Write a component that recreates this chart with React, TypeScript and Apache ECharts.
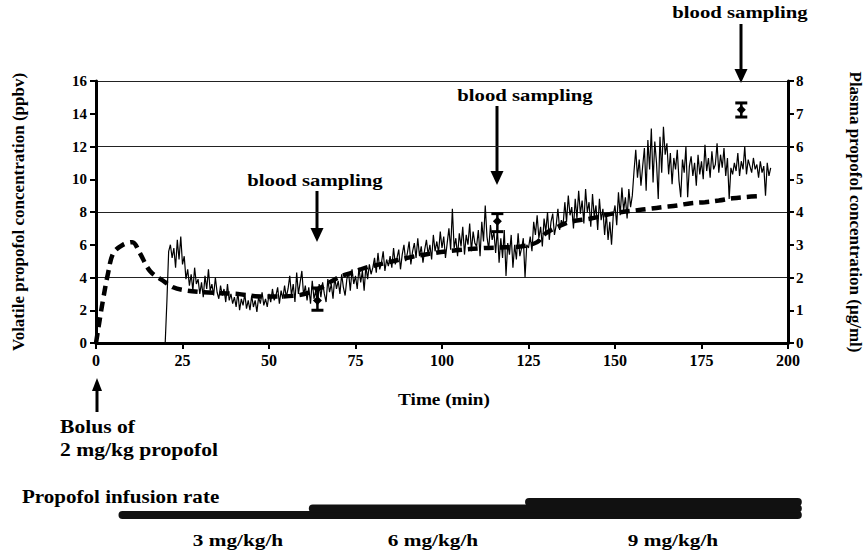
import React, { useEffect, useRef } from "react";
import * as echarts from "echarts";

// Volatile propofol (ppbv), sampled every 0.5 min from t = 20 min
const volStart = 20;
const volStep = 0.5;
const volValues = [
  0, 2.6, 5.6, 6.0, 5.2, 5.8, 4.6, 6.3, 5.1, 6.5,
  4.8, 5.3, 3.9, 4.5, 3.5, 4.2, 3.2, 4.6, 3.6, 3.9,
  3.0, 3.7, 2.8, 4.1, 3.3, 4.5, 3.2, 3.6, 2.9, 4.0,
  3.1, 2.7, 3.5, 2.9, 3.3, 2.5, 3.6, 2.6, 3.0, 2.4,
  2.8, 2.2, 3.1, 2.0, 2.7, 2.3, 3.0, 2.1, 2.6, 2.0,
  2.9, 2.2, 2.6, 1.9, 2.8, 2.4, 3.1, 2.3, 2.7, 2.2,
  3.0, 2.5, 3.3, 2.6, 2.9, 3.4, 2.4, 3.2, 2.7, 3.5,
  2.8, 3.3, 4.1, 2.9, 3.6, 2.5, 4.3, 3.0, 3.7, 4.4,
  2.9, 3.5, 2.6, 3.4, 2.4, 3.8, 2.7, 3.2, 2.3, 3.6,
  2.8, 3.7, 3.0, 2.5, 3.9, 3.1, 3.6, 2.7, 4.0, 3.3,
  3.8, 3.0, 4.2, 3.4, 2.9, 3.9, 4.3, 3.2, 4.5, 3.6,
  4.1, 3.3, 4.6, 3.7, 4.4, 3.2, 4.7, 3.9, 4.8, 4.2,
  4.6, 5.2, 4.3, 5.5, 4.5, 4.9, 5.6, 4.4, 5.1, 4.7,
  5.3, 4.6, 5.8, 4.8, 5.2, 5.7, 4.5, 5.4, 6.0, 5.0,
  5.5, 6.2, 4.8, 5.6, 6.1, 5.2, 6.4, 5.3, 5.9, 4.9,
  5.7, 6.3, 5.4, 6.0, 5.1, 6.6, 5.6, 6.2, 5.5, 6.8,
  5.8, 6.5, 5.2, 6.1, 7.0, 5.7, 8.2, 5.8, 6.4, 5.3,
  6.7, 5.9, 7.1, 5.4, 6.6, 6.0, 7.3, 5.6, 6.8, 6.1,
  5.9, 6.9, 5.3, 7.4, 6.2, 8.4, 6.5, 5.7, 7.2, 6.3,
  6.8, 5.5, 7.0, 4.9, 6.4, 5.2, 6.9, 4.1, 6.1, 5.4,
  6.6, 4.6, 6.0, 5.1, 6.7, 5.3, 5.8, 6.4, 4.0, 6.0,
  5.8, 6.5, 5.6, 7.4, 6.6, 7.8, 6.4, 7.1, 5.9, 7.6,
  6.8, 8.0, 6.3, 7.4, 7.9, 6.6, 7.2, 8.2, 6.9, 7.5,
  7.2, 8.6, 7.4, 9.0, 7.8, 8.3, 7.0, 8.8, 7.6, 9.3,
  7.9, 8.7, 7.3, 9.4, 8.0, 8.6, 7.1, 9.1, 7.7, 8.4,
  6.9, 8.8, 7.5, 8.2, 6.6, 7.9, 6.3, 7.4, 6.0, 7.8,
  8.4, 7.2, 9.2, 7.8, 9.5, 8.1, 8.9, 7.6, 9.4, 8.3,
  9.0, 10.5, 11.8, 10.1, 11.2, 9.6, 10.8, 11.9, 9.3, 12.4,
  10.6, 13.1, 9.8, 12.3, 11.0, 8.8, 12.6, 10.4, 13.2, 11.5,
  12.2, 10.3, 11.6, 9.7, 11.3, 10.6, 11.8, 9.9, 8.9, 11.2,
  10.4, 12.0, 8.9, 10.8, 11.4, 10.2, 11.0, 9.6, 11.5, 10.3,
  11.1, 10.0, 12.1, 10.5, 11.3, 10.1, 11.7, 10.6, 10.9, 12.2,
  10.4, 11.5, 10.7, 11.9, 10.2, 11.3, 8.8, 10.7, 10.3, 11.0,
  10.5, 11.6, 10.2, 11.1, 10.6, 12.0, 10.3, 11.2, 10.8, 10.4,
  11.3, 10.6, 10.9, 10.1, 11.1, 10.4, 10.8, 9.0, 11.0, 10.2,
  10.7,
];

// Plasma propofol (µg/ml), dashed curve
const plasmaTimes = [
  0, 0.6, 2, 3.5, 5, 7.8, 10.5, 12.7, 15.6, 19.4, 22.3, 25, 30, 36, 41, 46, 52, 58, 62, 66,
  70, 74, 78, 84, 90, 96, 104, 112, 118, 123, 127.5, 130, 133.5, 137, 143, 147, 152, 156, 160, 164,
  168, 172, 176, 180, 184, 188, 191,
];
const plasmaValues = [
  0, 0.4, 1.3, 2.14, 2.74, 3.0, 3.08, 2.74, 2.2, 1.9, 1.7, 1.62, 1.56, 1.52, 1.5, 1.43, 1.42, 1.45, 1.55, 1.75,
  2.0, 2.15, 2.3, 2.45, 2.6, 2.72, 2.83, 2.9, 2.92, 2.95, 3.08, 3.35, 3.55, 3.7, 3.8, 3.9, 4.0, 4.05, 4.1, 4.15,
  4.2, 4.27, 4.3, 4.35, 4.42, 4.46, 4.48,
];

// Measured plasma samples (µg/ml): time, mean, low, high
const sampleTimes = [64, 116, 186.5];
const sampleMeans = [1.3, 3.72, 7.12];
const sampleLows = [1.0, 3.4, 6.9];
const sampleHighs = [1.68, 3.95, 7.33];

// Infusion rate steps (mg/kg/h)
const infusionStarts = [6.5, 61.5, 124];
const infusionEnd = 204;
const infusionRates = [3, 6, 9];
const infusionLabels = ["3 mg/kg/h", "6 mg/kg/h", "9 mg/kg/h"];

const xTicks = [0, 25, 50, 75, 100, 125, 150, 175, 200];

const FONT = "'Liberation Serif', 'Times New Roman', serif";

export default function App() {
  const ref = useRef<HTMLDivElement>(null);

  useEffect(() => {
    if (!ref.current) return;
    const chart = echarts.init(ref.current, undefined, { renderer: "svg" });

    const volData = volValues.map((v, i) => [volStart + i * volStep, v]);
    const plasmaData = plasmaTimes.map((t, i) => [t, plasmaValues[i]]);
    const sampleData = sampleTimes.map((t, i) => [t, sampleMeans[i], sampleLows[i], sampleHighs[i]]);
    const infusionData = infusionStarts.map((s, i) => [s, infusionEnd, infusionRates[i]]);

    const labelStyle = {
      fontFamily: FONT,
      fontWeight: "bold",
      color: "#000",
    };

    const arrow = (x: number, y1: number, y2: number, up = false) => [
      {
        type: "line",
        shape: up ? { x1: x, y1: y1 + 8, x2: x, y2 } : { x1: x, y1, x2: x, y2: y2 - 4 },
        style: { stroke: "#000", lineWidth: 3 },
      },
      {
        type: "polygon",
        shape: {
          points: up
            ? [
                [x - 5, y1 + 13],
                [x + 5, y1 + 13],
                [x, y1],
              ]
            : [
                [x - 6.5, y2 - 14],
                [x + 6.5, y2 - 14],
                [x, y2],
              ],
        },
        style: { fill: "#000" },
      },
    ];

    const txt = (text: string, x: number, y: number, size: number, sx: number, align = "center") => ({
      type: "text",
      x,
      y,
      scaleX: sx,
      style: {
        text,
        fontFamily: FONT,
        fontWeight: "bold",
        fontSize: size,
        fill: "#000",
        align,
        verticalAlign: "middle",
      },
    });

    const option: any = {
      animation: false,
      backgroundColor: "#fff",
      grid: [
        { left: 96, right: 77, top: 81, height: 262, outerBoundsMode: "none", containLabel: false },
        { left: 96, right: 77, top: 495.5, height: 26, outerBoundsMode: "none", containLabel: false },
      ],
      xAxis: [
        {
          type: "value",
          gridIndex: 0,
          min: 0,
          max: 200,
          interval: 25,
          axisLine: { show: true, onZero: false, lineStyle: { color: "#000", width: 3 } },
          axisTick: { show: true, length: 6, lineStyle: { color: "#000", width: 2 } },
          axisLabel: { ...labelStyle, fontSize: 16, margin: 9, formatter: (v: number) => (xTicks.includes(v) ? String(v) : "") },
          splitLine: { show: false },
        },
        { type: "value", gridIndex: 1, min: 0, max: 200, show: false },
      ],
      yAxis: [
        {
          type: "value",
          gridIndex: 0,
          position: "left",
          min: 0,
          max: 16,
          interval: 2,
          name: "Volatile propofol concentration (ppbv)",
          nameLocation: "middle",
          nameGap: 69,
          nameTextStyle: { ...labelStyle, fontSize: 17 },
          axisLine: { show: true, lineStyle: { color: "#000", width: 3 } },
          axisTick: { show: true, length: 6, lineStyle: { color: "#000", width: 2 } },
          axisLabel: { ...labelStyle, fontSize: 15, margin: 9 },
          splitLine: { show: false },
        },
        {
          type: "value",
          gridIndex: 0,
          position: "right",
          min: 0,
          max: 8,
          interval: 1,
          name: "Plasma propofol concentration (\u00b5g/ml)",
          nameLocation: "middle",
          nameRotate: -90,
          nameGap: 59,
          nameTextStyle: { ...labelStyle, fontSize: 17 },
          axisLine: { show: true, lineStyle: { color: "#000", width: 3 } },
          axisTick: { show: true, length: 6, lineStyle: { color: "#000", width: 2 } },
          axisLabel: { ...labelStyle, fontSize: 15, margin: 8 },
          splitLine: { show: false },
        },
        {
          type: "value",
          gridIndex: 0,
          position: "left",
          min: 0,
          max: 16,
          interval: 4,
          axisLine: { show: false },
          axisTick: { show: false },
          axisLabel: { show: false },
          splitLine: { show: true, lineStyle: { color: "#222", width: 1.2 } },
        },
        { type: "value", gridIndex: 1, min: 0, max: 12, show: false },
      ],
      series: [
        {
          type: "line",
          xAxisIndex: 0,
          yAxisIndex: 1,
          data: plasmaData,
          smooth: 0.35,
          symbol: "none",
          lineStyle: { color: "#000", width: 4.5, type: [10, 6] },
          z: 2,
        },
        {
          type: "line",
          xAxisIndex: 0,
          yAxisIndex: 0,
          data: volData,
          symbol: "none",
          lineStyle: { color: "#000", width: 1.2 },
          z: 3,
        },
        {
          type: "custom",
          xAxisIndex: 0,
          yAxisIndex: 1,
          data: sampleData,
          z: 4,
          renderItem: (params: any, api: any) => {
            const t = api.value(0);
            const c = api.coord([t, api.value(1)]);
            const lo = api.coord([t, api.value(2)]);
            const hi = api.coord([t, api.value(3)]);
            const w = 6;
            const d = 4.5;
            return {
              type: "group",
              children: [
                { type: "line", shape: { x1: c[0], y1: lo[1], x2: c[0], y2: hi[1] }, style: { stroke: "#000", lineWidth: 2.5 } },
                { type: "line", shape: { x1: c[0] - w, y1: lo[1], x2: c[0] + w, y2: lo[1] }, style: { stroke: "#000", lineWidth: 3 } },
                { type: "line", shape: { x1: c[0] - w, y1: hi[1], x2: c[0] + w, y2: hi[1] }, style: { stroke: "#000", lineWidth: 3 } },
                {
                  type: "polygon",
                  shape: { points: [[c[0], c[1] - d], [c[0] + d, c[1]], [c[0], c[1] + d], [c[0] - d, c[1]]] },
                  style: { fill: "#000" },
                },
              ],
            };
          },
        },
        {
          type: "custom",
          xAxisIndex: 1,
          yAxisIndex: 3,
          data: infusionData,
          clip: false,
          silent: true,
          z: 2,
          renderItem: (params: any, api: any) => {
            const a = api.coord([api.value(0), api.value(2)]);
            const b = api.coord([api.value(1), api.value(2)]);
            const h = 8;
            return {
              type: "rect",
              shape: { x: a[0], y: a[1] - h / 2, width: b[0] - a[0], height: h, r: h / 2 },
              style: { fill: "#111" },
            };
          },
        },
      ],
      graphic: [
        txt("blood sampling", 315, 180, 17, 1.22),
        ...arrow(317, 191, 242),
        txt("blood sampling", 525, 95, 17, 1.22),
        ...arrow(497, 106, 185),
        txt("blood sampling", 740, 12, 17, 1.22),
        ...arrow(741, 24, 83),
        ...arrow(97, 378, 412, true),
        txt("Time (min)", 444, 400, 16, 1.2),
        txt("Bolus of", 60, 427, 18, 1.2, "left"),
        txt("2 mg/kg propofol", 60, 450, 18, 1.2, "left"),
        txt("Propofol infusion rate", 22, 497, 18, 1.17, "left"),
        txt(infusionLabels[0], 238, 540, 17, 1.25),
        txt(infusionLabels[1], 433, 540, 17, 1.25),
        txt(infusionLabels[2], 673, 540, 17, 1.25),
      ],
    };

    chart.setOption(option);
    return () => chart.dispose();
  }, []);

  return (
    <div
      ref={ref}
      style={{ position: "fixed", left: 0, top: 0, width: 865, height: 550, background: "#fff" }}
    />
  );
}
